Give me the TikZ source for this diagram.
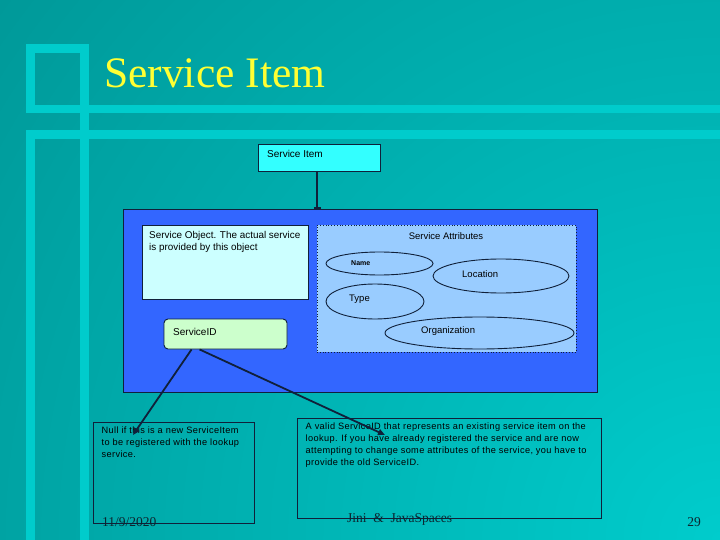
\documentclass[tikz,border=0pt]{standalone}
\usepackage{fontspec}
\setmainfont{Liberation Serif}
\newfontfamily\arialsp{Liberation Sans}[LetterSpace=4]
\newfontfamily\arial{Liberation Sans}
\usetikzlibrary{arrows.meta,shapes.geometric}
\definecolor{bgdark}{HTML}{009999}
\definecolor{bglight}{HTML}{00CCCC}
\definecolor{bar}{HTML}{00CCCC}
\definecolor{titleyellow}{HTML}{FFFF33}
\definecolor{itemcyan}{HTML}{33FFFF}
\definecolor{bigblue}{HTML}{3366FF}
\definecolor{objfill}{HTML}{CCFFFF}
\definecolor{attrfill}{HTML}{99CCFF}
\definecolor{sidfill}{HTML}{CCFFCC}
\definecolor{ink}{HTML}{10203A}
\definecolor{foot}{HTML}{0C2630}
\tikzset{
  boxed/.style={draw=ink, line width=0.9pt, inner sep=0pt},
  ell/.style={ellipse, draw=ink, line width=0.9pt, fill=attrfill, inner sep=0pt},
  lbl/.style={inner sep=0pt, anchor=west, text=black, font=\arial\fontsize{9.5}{11.5}\selectfont},
  notetxt/.style={inner sep=0pt, anchor=north west, align=left, text=black, font=\arialsp\fontsize{9.2}{12}\selectfont},
  conn/.style={draw=ink, line width=1.8pt, -{Triangle[length=7pt,width=6pt]}},
  foottxt/.style={inner sep=0pt, text=foot, font=\fontsize{13.5}{14}\selectfont},
}
\begin{document}
\begin{tikzpicture}[x=1pt,y=-1pt]
\useasboundingbox (0,0) rectangle (720,540);
% background
\fill[bgdark] (0,0) rectangle (720,540);
\begin{scope}
\clip (0,0) rectangle (720,540);
\shade[inner color=bglight, outer color=bgdark] (-180,-360) rectangle (1620,1440);
\end{scope}
% decorative bars
\fill[bar] (26,44) rectangle (89,53);
\fill[bar] (26,44) rectangle (35,113);
\fill[bar] (80,44) rectangle (89,540);
\fill[bar] (26,105) rectangle (720,113);
\fill[bar] (26,130) rectangle (720,139);
\fill[bar] (26,130) rectangle (35,540);
% title
\node[inner sep=0pt, anchor=base west, text=titleyellow, font=\fontsize{43.5}{48}\selectfont] (title) at (104,88) {Service Item};
% service item box
\node[boxed, fill=itemcyan, minimum width=122pt, minimum height=27pt] (si) at (319,157.5) {};
\node[lbl, font=\arial\fontsize{10}{12}\selectfont] (siT) at (267,154) {Service Item};
% big blue box
\node[boxed, fill=bigblue, minimum width=474pt, minimum height=183pt] (blue) at (360,300.5) {};
\draw[draw=ink, line width=1.8pt, -{Bar[width=7pt,line width=1.5pt]}] (317,171) -- (317,209);
% service object
\node[boxed, fill=objfill, minimum width=166pt, minimum height=74pt] (obj) at (225,262) {};
\node[lbl, anchor=north west, align=left, font=\arial\fontsize{9.9}{11.8}\selectfont] (objT) at (149,231) {Service Object. The actual service\\is provided by this object};
% attributes
\node[draw=ink, line width=0.8pt, dotted, fill=attrfill, minimum width=259pt, minimum height=127pt, inner sep=0pt] (attr) at (446.5,288.5) {};
\node[lbl, anchor=center] (attrT) at (446,236) {Service Attributes};
\node[ell, minimum width=107pt, minimum height=23pt] (nameE) at (379.5,263.5) {};
\node[ell, minimum width=136pt, minimum height=34pt] (locE) at (501,276) {};
\node[ell, minimum width=98pt, minimum height=35pt] (typeE) at (375,301.5) {};
\node[ell, minimum width=189pt, minimum height=32pt] (orgE) at (479.5,333) {};
\node[lbl, font=\arial\bfseries\fontsize{7}{8}\selectfont] (nameT) at (351,263.5) {Name};
\node[lbl] (locT) at (462,274.5) {Location};
\node[lbl] (typeT) at (349,299) {Type};
\node[lbl] (orgT) at (421,331.5) {Organization};
% service id
\node[boxed, fill=sidfill, rounded corners=4pt, minimum width=123pt, minimum height=30pt] (sid) at (225.5,334) {};
\node[lbl, font=\arial\fontsize{10}{12}\selectfont] (sidT) at (173,332) {ServiceID};
% notes
\node[draw=ink, line width=0.9pt, minimum width=161pt, minimum height=101pt, inner sep=0pt] (noteL) at (173.5,472.5) {};
\node[notetxt] (noteLT) at (101.5,427) {Null if this is a new ServiceItem\\to be registered with the lookup\\service.};
\node[draw=ink, line width=0.9pt, minimum width=304pt, minimum height=100pt, inner sep=0pt] (noteR) at (449,468) {};
\node[notetxt] (noteRT) at (305.5,423) {A valid ServiceID that represents an existing service item on the\\lookup.  If you have already registered the service and are now\\attempting to change some attributes of the service, you have to\\provide the old ServiceID.};
% connectors
\coordinate (tipL) at (133,435);
\coordinate (tipR) at (385,435);
\draw[conn] (sid.south west) ++(28,0) -- (tipL);
\draw[conn] (sid.south west) ++(36,0) -- (tipR);
% footer
\node[foottxt, anchor=west] (date) at (102,522) {11/9/2020};
\node[foottxt, anchor=west] (footmid) at (347,519) {Jini \ \& \ JavaSpaces};
\node[foottxt, anchor=east] (page) at (701,522) {29};
\end{tikzpicture}
\end{document}
